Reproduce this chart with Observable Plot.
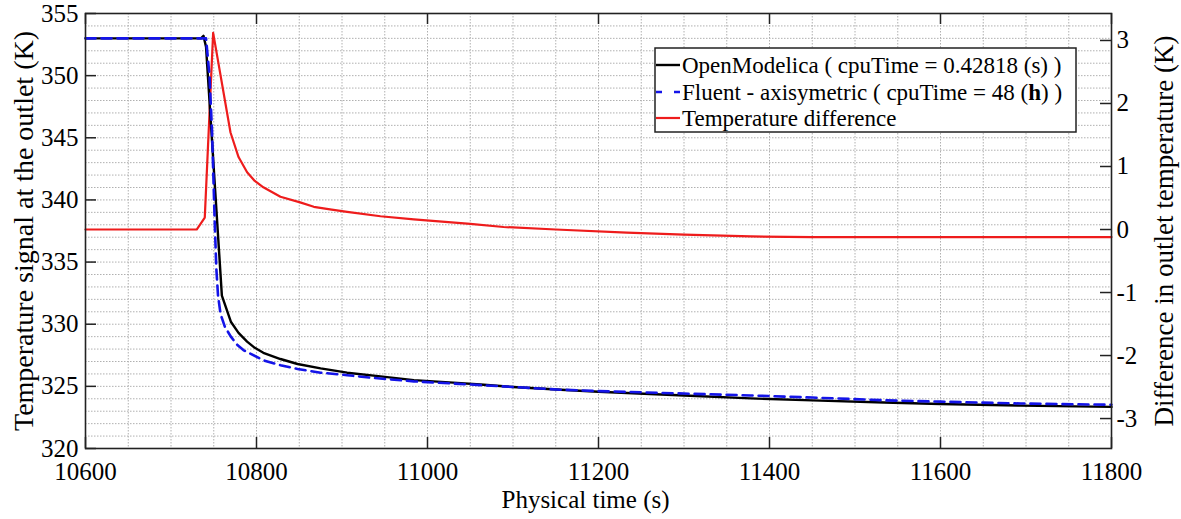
<!DOCTYPE html>
<html>
<head>
<meta charset="utf-8">
<script src="https://cdn.jsdelivr.net/npm/d3@7"></script>
<script src="https://cdn.jsdelivr.net/npm/@observablehq/plot@0.6"></script>
<style>
  body { margin: 0; background: #fff; }
  #chart svg { display: block; }
</style>
</head>
<body>
<div id="chart"></div>
<script>
// Outlet temperature, OpenModelica model (K)
const omTime = [10600, 10700, 10735, 10738, 10741, 10759.5, 10770, 10779, 10789, 10798, 10808, 10828, 10848, 10875, 10906, 10945, 10984, 11030, 11062, 11100, 11156, 11200, 11300, 11378, 11450, 11534, 11600, 11694, 11800];
const omTemp = [353, 353, 353, 353.2, 352.3, 332.3, 330.2, 329.3, 328.6, 328.1, 327.7, 327.2, 326.8, 326.45, 326.1, 325.8, 325.5, 325.3, 325.15, 324.95, 324.73, 324.57, 324.27, 324.03, 323.87, 323.7, 323.58, 323.45, 323.35];

// Outlet temperature, Fluent axisymmetric model (K)
const fluentTime = [10600, 10700, 10741, 10745, 10748, 10751, 10753, 10755, 10758, 10763, 10770, 10778, 10785, 10808, 10828, 10848, 10875, 10906, 10933, 10984, 11050, 11100, 11156, 11200, 11300, 11378, 11450, 11534, 11600, 11694, 11800];
const fluentTemp = [353, 353, 353, 350, 345.5, 338.5, 334.5, 332.3, 330.8, 329.8, 329.0, 328.3, 327.9, 327.1, 326.7, 326.4, 326.1, 325.9, 325.7, 325.4, 325.15, 324.95, 324.73, 324.62, 324.42, 324.27, 324.1, 323.88, 323.77, 323.62, 323.52];

// Temperature difference between the two models (K), right axis
const diffTime = [10600, 10700, 10730, 10739.5, 10749.3, 10769.6, 10779, 10789, 10798, 10808, 10828, 10851, 10867, 10886, 10906, 10945, 10984, 11050, 11089, 11150, 11233, 11300, 11378, 11450, 11600, 11800];
const diffValue = [0, 0, 0, 0.19, 3.12, 1.54, 1.15, 0.91, 0.77, 0.67, 0.52, 0.43, 0.36, 0.32, 0.28, 0.21, 0.16, 0.09, 0.04, 0.0, -0.05, -0.08, -0.11, -0.12, -0.12, -0.12];

// Tick values
const xTicks = [10600, 10800, 11000, 11200, 11400, 11600, 11800];
const yTicks = [320, 325, 330, 335, 340, 345, 350, 355];
const diffTicks = [-3, -2, -1, 0, 1, 2, 3];

const legendLabels = [
  "OpenModelica ( cpuTime = 0.42818 (s) )",
  "Fluent - axisymetric ( cpuTime = 48 (h) )",
  "Temperature difference"
];

// The difference axis shares the plotting area: map it linearly onto the temperature scale
const diffZero = 337.62, diffUnit = 5.07;
const toLeft = (d) => diffZero + diffUnit * d;
const fromLeft = (v) => (v - diffZero) / diffUnit;

const om = omTime.map((t, i) => ({t, v: omTemp[i]}));
const fluent = fluentTime.map((t, i) => ({t, v: fluentTemp[i]}));
const diff = diffTime.map((t, i) => ({t, v: diffValue[i]}));

const BLACK = "#000000", BLUE = "#1414e8", RED = "#ee1c1c";
const FONT = "Liberation Serif, Times New Roman, serif";
const W = 1181, H = 519;
const M = {left: 85, right: 70, top: 13, bottom: 71};
const frameW = W - M.left - M.right, frameH = H - M.top - M.bottom;
const TICK = 11;

const gridStyle = {stroke: "#b0b0b0", strokeOpacity: 1, strokeWidth: 1, strokeDasharray: "1.5,1.5"};
const tickStyle = {stroke: "#222", strokeWidth: 1.5};

const plot = Plot.plot({
  width: W,
  height: H,
  marginLeft: M.left,
  marginRight: M.right,
  marginTop: M.top,
  marginBottom: M.bottom,
  style: {fontFamily: FONT, background: "#fff", color: "#000", overflow: "visible"},
  x: {domain: [10600, 11800]},
  y: {domain: [320, 355]},
  marks: [
    Plot.gridX(d3.range(10600, 11801, 50), gridStyle),
    Plot.gridY(d3.range(320, 356, 1), gridStyle),

    Plot.line(diff, {x: "t", y: (d) => toLeft(d.v), stroke: RED, strokeWidth: 2.2}),
    Plot.line(om, {x: "t", y: "v", stroke: BLACK, strokeWidth: 2.4}),
    Plot.line(fluent, {x: "t", y: "v", stroke: BLUE, strokeWidth: 2.6, strokeDasharray: "10,6"}),

    Plot.frame({stroke: "#222", strokeWidth: 1.6}),

    // inward tick marks on all four sides
    Plot.tickX(xTicks, {x: (d) => d, insetTop: frameH - TICK, ...tickStyle}),
    Plot.tickX(xTicks, {x: (d) => d, insetBottom: frameH - TICK, ...tickStyle}),
    Plot.tickY(yTicks, {y: (d) => d, insetRight: frameW - TICK, ...tickStyle}),
    Plot.tickY(diffTicks, {y: (d) => toLeft(d), insetLeft: frameW - TICK, ...tickStyle}),

    // tick labels
    Plot.axisX({anchor: "bottom", ticks: xTicks, tickSize: 0, tickPadding: 14, tickFormat: (d) => String(d), label: null, fontSize: 25}),
    Plot.axisY({anchor: "left", ticks: yTicks, tickSize: 0, tickPadding: 7, tickFormat: (d) => String(d), label: null, fontSize: 25}),
    Plot.axisY({anchor: "right", ticks: diffTicks.map(toLeft), tickSize: 0, tickPadding: 5, tickFormat: (v) => String(Math.round(fromLeft(v))), label: null, fontSize: 25}),

    // axis titles
    Plot.text(["Physical time (s)"], {frameAnchor: "bottom", dy: 59, dx: -13, lineAnchor: "bottom", textAnchor: "middle", fontSize: 25}),
    Plot.text(["Temperature signal at the outlet (K)"], {frameAnchor: "left", dx: -53, rotate: -90, lineAnchor: "bottom", textAnchor: "middle", fontSize: 28}),
    Plot.text(["Difference in outlet temperature (K)"], {frameAnchor: "right", dx: 61, rotate: -90, lineAnchor: "bottom", textAnchor: "middle", fontSize: 27})
  ]
});

document.getElementById("chart").append(plot);

// Legend box in the upper right of the plotting area
const svg = d3.select(plot);
const lg = {x: W - M.right - 35 - 421, y: M.top + 35, w: 421, h: 84};
const g = svg.append("g")
  .attr("font-family", FONT).attr("font-size", 23).attr("text-anchor", "start");
g.append("rect")
  .attr("x", lg.x).attr("y", lg.y).attr("width", lg.w).attr("height", lg.h)
  .attr("fill", "#fff").attr("stroke", "#222").attr("stroke-width", 1.5);
const rowY = [lg.y + 17, lg.y + 44, lg.y + 70];
const swatches = [
  {stroke: BLACK, dash: null, width: 2.4},
  {stroke: BLUE, dash: "6,12", width: 2.6},
  {stroke: RED, dash: null, width: 2.2}
];
swatches.forEach((s, i) => {
  g.append("line")
    .attr("x1", lg.x + 1).attr("x2", lg.x + 25)
    .attr("y1", rowY[i]).attr("y2", rowY[i])
    .attr("stroke", s.stroke).attr("stroke-width", s.width)
    .attr("stroke-dasharray", s.dash);
  const txt = g.append("text")
    .attr("x", lg.x + 27).attr("y", rowY[i]).attr("dy", "0.34em").attr("fill", "#000");
  const label = legendLabels[i];
  const k = label.indexOf("(h)");
  if (k >= 0) {
    txt.append("tspan").text(label.slice(0, k + 1));
    txt.append("tspan").attr("font-weight", "bold").text("h");
    txt.append("tspan").text(label.slice(k + 2));
  } else {
    txt.text(label);
  }
});
</script>
</body>
</html>
